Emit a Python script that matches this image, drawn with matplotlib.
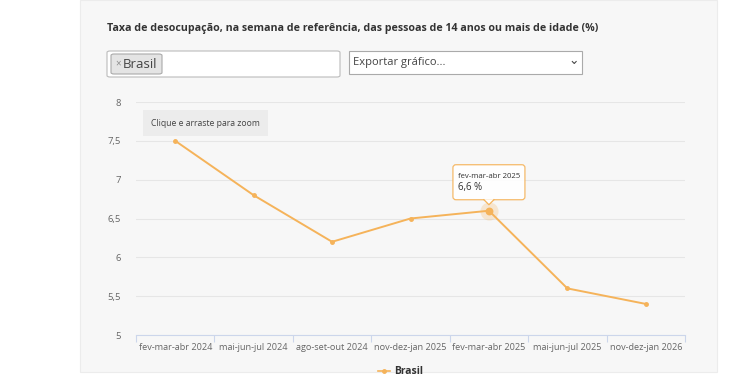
import matplotlib.pyplot as plt
from matplotlib.patches import Rectangle, FancyBboxPatch, Polygon
from matplotlib.lines import Line2D
from matplotlib.transforms import IdentityTransform

plt.rcParams['font.family'] = ['Open Sans', 'DejaVu Sans']

periods = [
    "fev-mar-abr 2024",
    "mai-jun-jul 2024",
    "ago-set-out 2024",
    "nov-dez-jan 2025",
    "fev-mar-abr 2025",
    "mai-jun-jul 2025",
    "nov-dez-jan 2026",
]
brasil = [7.5, 6.8, 6.2, 6.5, 6.6, 5.6, 5.4]
y_ticks = [5, 5.5, 6, 6.5, 7, 7.5, 8]
y_labels = ["5", "5,5", "6", "6,5", "7", "7,5", "8"]
hover_idx = 4
hover_label = "6,6 %"

W, H = 750, 375
line_color = "#f5b35a"
panel_color = "#f7f7f7"


def fx(px):
    return px / W


def fy(py):
    return 1 - py / H


fig = plt.figure(figsize=(7.5, 3.75), dpi=100)
fig.patch.set_facecolor("white")

# grey page panel
fig.patches.append(Rectangle((fx(80), fy(372)), fx(637), 372 / H,
                             transform=fig.transFigure, facecolor=panel_color,
                             edgecolor="#ececec", lw=0.8, zorder=-5))

fig.text(fx(107), fy(29), "Taxa de desocupação, na semana de referência, das pessoas de 14 anos ou mais de idade (%)",
         fontsize=7.65, fontweight="bold", color="#333333", va="center")

# select boxes
fig.patches.append(FancyBboxPatch((fx(107), fy(77)), fx(233), 26 / H,
                                  boxstyle="round,pad=0,rounding_size=0.004",
                                  transform=fig.transFigure, facecolor="white",
                                  edgecolor="#bbbbbb", lw=0.8))
fig.patches.append(FancyBboxPatch((fx(111), fy(74)), fx(51), 20 / H,
                                  boxstyle="round,pad=0,rounding_size=0.004",
                                  transform=fig.transFigure, facecolor="#e4e4e4",
                                  edgecolor="#aaaaaa", lw=0.8))
fig.text(fx(115), fy(64), "×", fontsize=7, color="#888888", va="center")
fig.text(fx(123), fy(64), "Brasil", fontsize=9.5, color="#444444", va="center")

fig.patches.append(Rectangle((fx(349), fy(74)), fx(233), 23 / H,
                             transform=fig.transFigure, facecolor="white",
                             edgecolor="#aaaaaa", lw=0.8))
fig.text(fx(353), fy(62), "Exportar gráfico...", fontsize=8, color="#444444", va="center")
fig.text(fx(574), fy(61), "⌄", fontsize=9, color="#444444", va="center", ha="center",
         family=["DejaVu Sans"])

# chart area
ax = fig.add_axes([fx(136), fy(335), fx(549), 233 / H])
ax.set_zorder(2)
ax.set_facecolor(panel_color)
x = list(range(len(periods)))
ax.plot(x, brasil, color=line_color, lw=1.4, marker="o", markersize=2.5, zorder=3)
ax.scatter([x[hover_idx]], [brasil[hover_idx]], s=170, color=line_color, alpha=0.25,
           lw=0, zorder=4)
ax.scatter([x[hover_idx]], [brasil[hover_idx]], s=32, color=line_color, lw=0, zorder=5)

ax.set_xlim(-0.5, len(periods) - 0.5)
ax.set_ylim(5, 8)
ax.set_yticks(y_ticks)
ax.set_yticklabels(y_labels)
ax.set_xticks(x)
ax.set_xticklabels(periods)
ax.set_xticks([i - 0.5 for i in range(len(periods) + 1)], minor=True)
ax.tick_params(axis="x", which="major", length=0, labelsize=6.6, colors="#666666", pad=6)
ax.tick_params(axis="x", which="minor", length=5, color="#ccd6eb", width=0.8)
ax.tick_params(axis="y", length=0, labelsize=6.8, colors="#666666", pad=11)
ax.grid(axis="y", color="#e6e6e6", lw=0.8)
ax.set_axisbelow(True)
for s in ["top", "right", "left"]:
    ax.spines[s].set_visible(False)
ax.spines["bottom"].set_color("#ccd6eb")
ax.spines["bottom"].set_linewidth(0.8)

# zoom hint box
ax.annotate("Clique e arraste para zoom", xy=(0, 1), xycoords="axes fraction",
            xytext=(15, -21), textcoords="offset pixels", fontsize=6.2, color="#444444",
            va="center", ha="left",
            bbox=dict(boxstyle="square,pad=0.95", facecolor="#ececec", edgecolor="none"))

# tooltip
fig.canvas.draw()
px, py = ax.transData.transform((x[hover_idx], brasil[hover_idx]))
tip = FancyBboxPatch((px - 36, py + 11), 72, 35, boxstyle="round,pad=0,rounding_size=3",
                     transform=IdentityTransform(), facecolor="white", alpha=0.9,
                     edgecolor=line_color, lw=0.9, clip_on=False, zorder=6)
ax.add_artist(tip)
ax.add_artist(Polygon([(px - 5, py + 11.5), (px + 5, py + 11.5), (px, py + 6)],
                      closed=True, transform=IdentityTransform(), facecolor="white",
                      edgecolor="none", clip_on=False, zorder=7))
ax.add_artist(Line2D([px - 5, px, px + 5], [py + 11, py + 6, py + 11], color=line_color,
                     lw=0.9, transform=IdentityTransform(), clip_on=False, zorder=7))
ax.annotate(periods[hover_idx], xy=(x[hover_idx], brasil[hover_idx]),
            xytext=(-31, 34), textcoords="offset pixels", fontsize=5.6, color="#333333",
            va="center", zorder=8)
ax.annotate(hover_label, xy=(x[hover_idx], brasil[hover_idx]),
            xytext=(-31, 23), textcoords="offset pixels", fontsize=7, color="#333333",
            va="center", zorder=8)

# legend
fig.add_artist(Line2D([fx(378), fx(390)], [fy(371), fy(371)], color=line_color, lw=1.2,
                      transform=fig.transFigure))
fig.add_artist(Line2D([fx(384)], [fy(371)], color=line_color, marker="o", markersize=2.5,
                      transform=fig.transFigure))
fig.text(fx(394), fy(371), "Brasil", fontsize=7.5, fontweight="bold", color="#333333",
         va="center")

fig.savefig("out.png", dpi=100)
